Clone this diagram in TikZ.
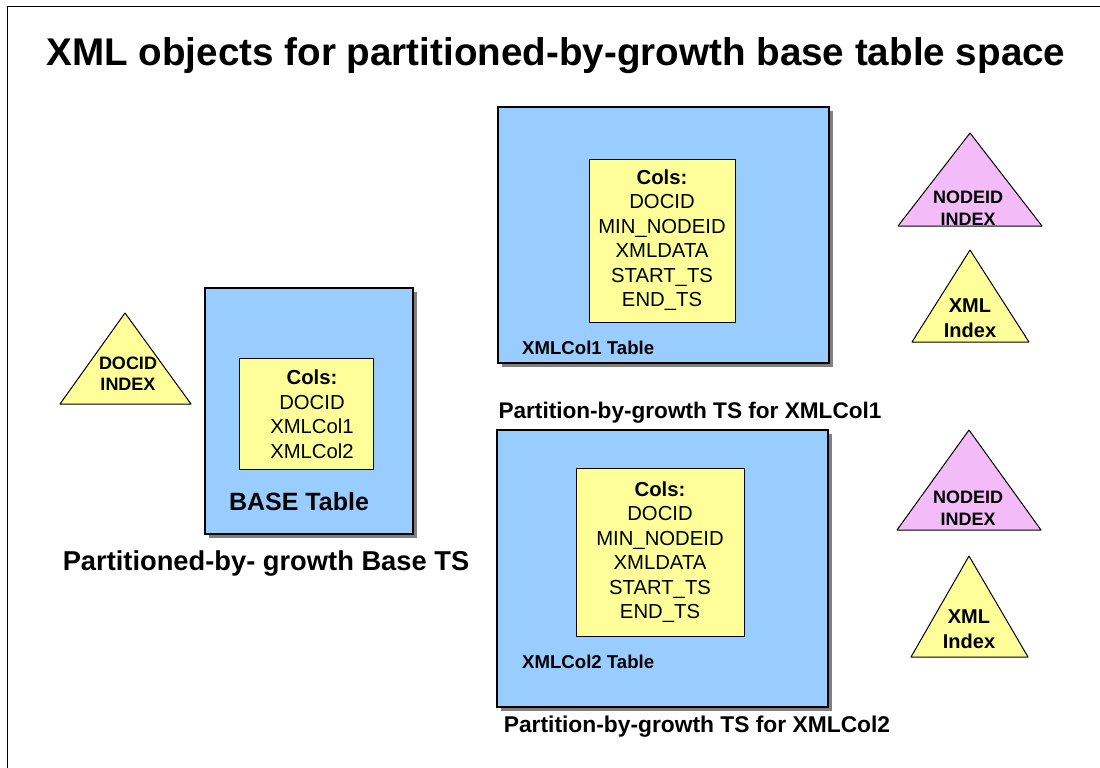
\documentclass[tikz,border=0pt]{standalone}
\usepackage{fontspec}
\setmainfont{Liberation Sans}
\begin{document}
\begin{tikzpicture}[x=1pt,y=-1pt,
  fs/.style 2 args={font=\fontsize{#1}{#2}\selectfont},
  bfs/.style 2 args={font=\fontsize{#1}{#2}\selectfont\bfseries},
  tablebox/.style={draw=black,line width=1.1pt,fill=tblblue},
  shadowbox/.style={fill=black!50,draw=none},
  colsbox/.style={draw=black,line width=1pt,fill=colyellow},
  tri/.style={draw=black,line width=1pt,line join=round},
  coltext/.style={align=center,inner sep=0pt,fs={20.3}{24.5}},
  lbl/.style={inner sep=0pt}]
\definecolor{tblblue}{HTML}{99CCFF}
\definecolor{colyellow}{HTML}{FFFF99}
\definecolor{idxpink}{HTML}{F4BBF9}

\useasboundingbox (0,0) rectangle (1100,768);
% page frame: left and top rules
\draw[line width=1pt] (7,768) -- (7,7) -- (1100,7);

% title
\node[lbl,bfs={38.6}{44}] (title) at (556,56) {XML objects for partitioned-by-growth base table space};

% ---- base table space ----
\fill[shadowbox] (209,292) rectangle (417,538);
\draw[tablebox] (205,288) rectangle (413,534);
\draw[colsbox] (239,358) rectangle (373,469);
\node[coltext] (basecols) at (312,414) {\textbf{Cols:}\\DOCID\\XMLCol1\\XMLCol2};
\node[lbl,bfs={25}{29}] (basetbl) at (299,502) {BASE Table};
\node[lbl,bfs={27.3}{32}] (basets) at (266,563) {Partitioned-by- growth Base TS};

% DOCID index
\draw[tri,fill=colyellow] (125,313) -- (191,404) -- (60,404) -- cycle;
\node[lbl,align=center,bfs={18}{21}] (docidx) at (128,374) {DOCID\\INDEX};

% ---- XMLCol1 table space ----
\fill[shadowbox] (502,111) rectangle (833,367);
\draw[tablebox] (498,107) rectangle (829,363);
\draw[colsbox] (589,159) rectangle (735,322);
\node[coltext] (cols1) at (662,240) {\textbf{Cols:}\\DOCID\\MIN\_NODEID\\XMLDATA\\START\_TS\\END\_TS};
\node[lbl,anchor=west,bfs={18.6}{22}] (tbl1) at (522,348) {XMLCol1 Table};
\node[lbl,bfs={22.6}{27}] (ts1) at (690,413) {Partition-by-growth TS for XMLCol1};

% ---- XMLCol2 table space ----
\fill[shadowbox] (501,434) rectangle (832,711);
\draw[tablebox] (497,430) rectangle (828,707);
\draw[colsbox] (576,468) rectangle (744,636);
\node[coltext] (cols2) at (660,552) {\textbf{Cols:}\\DOCID\\MIN\_NODEID\\XMLDATA\\START\_TS\\END\_TS};
\node[lbl,anchor=west,bfs={18.6}{22}] (tbl2) at (522,662) {XMLCol2 Table};
\node[lbl,bfs={22.8}{27}] (ts2) at (697,727) {Partition-by-growth TS for XMLCol2};

% ---- indexes for XMLCol1 ----
\draw[tri,fill=idxpink] (970,133) -- (1042,226) -- (898,226) -- cycle;
\node[lbl,align=center,bfs={18}{22}] (nidx1) at (968,208) {NODEID\\INDEX};
\draw[tri,fill=colyellow] (970,250) -- (1029,342) -- (912,342) -- cycle;
\node[lbl,align=center,bfs={20}{25}] (xidx1) at (970,318) {XML\\Index};

% ---- indexes for XMLCol2 ----
\draw[tri,fill=idxpink] (969,430) -- (1041,530) -- (897,530) -- cycle;
\node[lbl,align=center,bfs={18}{22}] (nidx2) at (968,508) {NODEID\\INDEX};
\draw[tri,fill=colyellow] (969,556) -- (1028,657) -- (911,657) -- cycle;
\node[lbl,align=center,bfs={20}{25}] (xidx2) at (969,629) {XML\\Index};
\end{tikzpicture}
\end{document}
